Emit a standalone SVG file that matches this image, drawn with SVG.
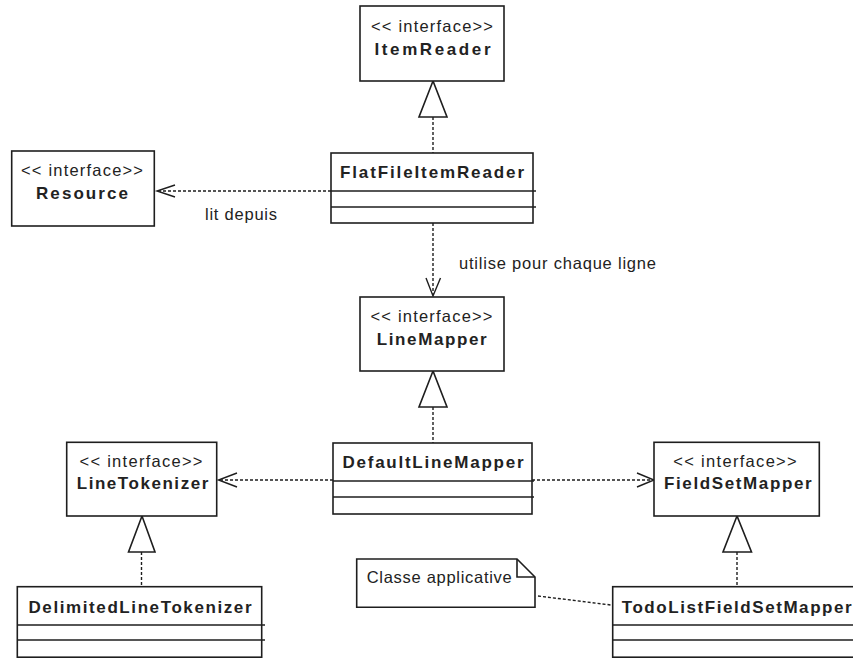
<svg xmlns="http://www.w3.org/2000/svg" width="853" height="658" viewBox="0 0 853 658">
  <style>
    .box { fill: #ffffff; stroke: #1e1e1e; stroke-width: 1.6; }
    .div { stroke: #1e1e1e; stroke-width: 1.6; fill: none; }
    .dash { stroke: #1e1e1e; stroke-width: 1.4; stroke-dasharray: 3 2; fill: none; }
    .open { stroke: #1e1e1e; stroke-width: 1.4; fill: none; }
    .tri { stroke: #1e1e1e; stroke-width: 1.6; fill: #ffffff; }
    text { font-family: "Liberation Sans", Arial, sans-serif; fill: #222222; }
    .st { font-size: 16.5px; }
    .nm { font-size: 17px; font-weight: bold; }
    .lbl { font-size: 16.5px; }
  </style>
  <rect width="853" height="658" fill="#ffffff"/>

  <!-- connectors -->
  <g id="connectors">
    <!-- FlatFileItemReader realizes ItemReader -->
    <line class="dash" x1="433" y1="117" x2="433" y2="153"/>
    <polygon class="tri" points="433,81 419,117 447,117"/>
    <!-- FlatFileItemReader reads from Resource -->
    <line class="dash" x1="331" y1="191" x2="157" y2="191"/>
    <polyline class="open" points="175,185 157,191 175,197"/>
    <text class="lbl" x="205" y="220" textLength="72" lengthAdjust="spacing">lit depuis</text>
    <!-- FlatFileItemReader uses LineMapper -->
    <line class="dash" x1="433" y1="223" x2="433" y2="295"/>
    <polyline class="open" points="426,278 433,296 440.5,278"/>
    <text class="lbl" x="459" y="269" textLength="197" lengthAdjust="spacing">utilise pour chaque ligne</text>
    <!-- DefaultLineMapper realizes LineMapper -->
    <polygon class="tri" points="433,371 419,407 447,407"/>
    <line class="dash" x1="433" y1="407" x2="433" y2="443"/>
    <!-- DefaultLineMapper uses LineTokenizer -->
    <line class="dash" x1="333" y1="480" x2="220" y2="480"/>
    <polyline class="open" points="237,473 218.5,480 237,487"/>
    <!-- DefaultLineMapper uses FieldSetMapper -->
    <line class="dash" x1="532" y1="480" x2="652" y2="480"/>
    <polyline class="open" points="637,473 654,480 637,487"/>
    <!-- DelimitedLineTokenizer realizes LineTokenizer -->
    <polygon class="tri" points="142,516 128.5,552 155,552"/>
    <line class="dash" x1="141.5" y1="552" x2="141.5" y2="587"/>
    <!-- TodoListFieldSetMapper realizes FieldSetMapper -->
    <polygon class="tri" points="737,516 723,552 751.5,552"/>
    <line class="dash" x1="737" y1="552" x2="737" y2="587"/>
    <!-- note attachment -->
    <line class="dash" x1="538" y1="596" x2="611" y2="605"/>
  </g>

  <g id="ItemReader">
    <rect class="box" x="360" y="6" width="144" height="75"/>
    <text class="st" x="432" y="31.5" text-anchor="middle" textLength="122" lengthAdjust="spacing">&lt;&lt; interface&gt;&gt;</text>
    <text class="nm" x="432.5" y="55" text-anchor="middle" textLength="116" lengthAdjust="spacing">ItemReader</text>
  </g>

  <g id="Resource">
    <rect class="box" x="11.7" y="151" width="142.6" height="75"/>
    <text class="st" x="82" y="176" text-anchor="middle" textLength="122" lengthAdjust="spacing">&lt;&lt; interface&gt;&gt;</text>
    <text class="nm" x="82" y="199" text-anchor="middle" textLength="92" lengthAdjust="spacing">Resource</text>
  </g>

  <g id="FlatFileItemReader">
    <rect class="box" x="331" y="153" width="202" height="70"/>
    <line class="div" x1="331" y1="191" x2="536" y2="191"/>
    <line class="div" x1="331" y1="207" x2="536" y2="207"/>
    <text class="nm" x="432" y="178" text-anchor="middle" textLength="184" lengthAdjust="spacing">FlatFileItemReader</text>
  </g>

  <g id="LineMapper">
    <rect class="box" x="360" y="297" width="144" height="74"/>
    <text class="st" x="431.5" y="322" text-anchor="middle" textLength="122" lengthAdjust="spacing">&lt;&lt; interface&gt;&gt;</text>
    <text class="nm" x="431.7" y="345" text-anchor="middle" textLength="110" lengthAdjust="spacing">LineMapper</text>
  </g>

  <g id="DefaultLineMapper">
    <rect class="box" x="333" y="443" width="199" height="71"/>
    <line class="div" x1="333" y1="481" x2="534" y2="481"/>
    <line class="div" x1="333" y1="497" x2="534" y2="497"/>
    <text class="nm" x="433" y="467.5" text-anchor="middle" textLength="181" lengthAdjust="spacing">DefaultLineMapper</text>
  </g>

  <g id="LineTokenizer">
    <rect class="box" x="66.7" y="442.3" width="150" height="73.7"/>
    <text class="st" x="141" y="467" text-anchor="middle" textLength="123" lengthAdjust="spacing">&lt;&lt; interface&gt;&gt;</text>
    <text class="nm" x="142.5" y="489" text-anchor="middle" textLength="131.6" lengthAdjust="spacing">LineTokenizer</text>
  </g>

  <g id="FieldSetMapper">
    <rect class="box" x="654" y="442.3" width="165.3" height="73.7"/>
    <text class="st" x="735" y="467" text-anchor="middle" textLength="123.4" lengthAdjust="spacing">&lt;&lt; interface&gt;&gt;</text>
    <text class="nm" x="737.8" y="489" text-anchor="middle" textLength="147.7" lengthAdjust="spacing">FieldSetMapper</text>
  </g>

  <g id="DelimitedLineTokenizer">
    <rect class="box" x="17.3" y="586.7" width="244.4" height="70.5"/>
    <line class="div" x1="17.3" y1="625" x2="265" y2="625"/>
    <line class="div" x1="17.3" y1="640" x2="265" y2="640"/>
    <text class="nm" x="140" y="613" text-anchor="middle" textLength="223" lengthAdjust="spacing">DelimitedLineTokenizer</text>
  </g>

  <g id="TodoListFieldSetMapper">
    <rect class="box" x="612.7" y="586.7" width="260" height="70.5"/>
    <line class="div" x1="612.7" y1="625" x2="853" y2="625"/>
    <line class="div" x1="612.7" y1="640" x2="853" y2="640"/>
    <text class="nm" x="621.7" y="613" textLength="230" lengthAdjust="spacing">TodoListFieldSetMapper</text>
  </g>

  <g id="note">
    <path class="box" d="M356.7,559 L517,559 L535,577 L535,607.3 L356.7,607.3 Z"/>
    <polyline class="div" points="517,559 517,577 535,577"/>
    <text class="lbl" x="366.7" y="583" textLength="145" lengthAdjust="spacing">Classe applicative</text>
  </g>
</svg>
